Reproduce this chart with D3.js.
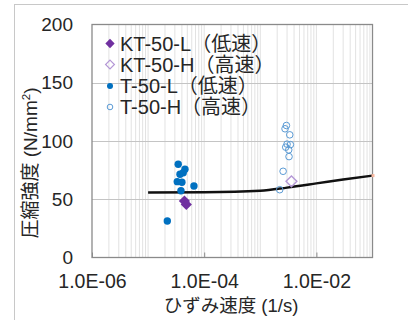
<!DOCTYPE html>
<html>
<head>
<meta charset="utf-8">
<script src="https://cdn.jsdelivr.net/npm/d3@7"></script>
<style>
  html, body { margin: 0; padding: 0; background: #fff; }
  svg { display: block; }
  text { font-family: "Liberation Sans", Arial, "Noto Sans CJK JP", sans-serif; fill: #262626; }
</style>
</head>
<body>
<svg id="chart" width="408" height="320"></svg>
<script>
// Strain rate (1/s) and compressive strength (N/mm2)
const tlRate = [3.44e-5, 4.54e-5, 4.23e-5, 3.70e-5, 3.31e-5, 4.01e-5, 6.56e-5, 3.85e-5, 2.20e-5];
const tlStrength = [80.1, 75.8, 72.8, 71.5, 65.1, 64.6, 61.4, 57.3, 31.3];

const thRate = [2.92e-3, 2.76e-3, 3.35e-3, 3.00e-3, 3.44e-3, 2.84e-3, 3.21e-3, 3.25e-3, 2.55e-3, 2.22e-3];
const thStrength = [113.3, 110.5, 105.3, 97.3, 96.9, 94.7, 92.4, 86.6, 74.0, 58.2];

const ktlRate = [4.44e-5, 4.80e-5];
const ktlStrength = [48.5, 45.5];

const kthRate = [3.59e-3];
const kthStrength = [65.4];

// Reference strength curve
const curveRate = [1e-5, 1e-4, 1e-3, 3e-3, 1e-2, 3e-2, 1e-1];
const curveStrength = [55.8, 56.0, 57.3, 60.0, 63.6, 67.0, 70.3];

const xTickValues = [1e-6, 1e-4, 1e-2];
const yTickValues = [0, 50, 100, 150, 200];

const legendLabels = ["KT-50-L（低速）", "KT-50-H（高速）", "T-50-L（低速）", "T-50-H（高速）"];

const svg = d3.select("#chart");
const plot = { left: 92, right: 372.5, top: 24.5, bottom: 257.5 };

const x = d3.scaleLog().domain([1e-6, 1e-1]).range([plot.left, plot.right]);
const y = d3.scaleLinear().domain([0, 200]).range([plot.bottom, plot.top]);

// Outer frame
svg.append("rect")
  .attr("x", 14.5).attr("y", 4.5).attr("width", 500).attr("height", 400)
  .attr("fill", "none").attr("stroke", "#c8c8c8").attr("stroke-width", 1);

// Vertical grid at every log step
const gridTicks = [];
for (let e = -6; e < -1; e++) {
  for (let m = 1; m <= 9; m++) if (!(e === -6 && m === 1)) gridTicks.push(m * Math.pow(10, e));
}
svg.append("g").selectAll("line").data(gridTicks).join("line")
  .attr("x1", d => x(d)).attr("x2", d => x(d))
  .attr("y1", plot.top).attr("y2", plot.bottom)
  .attr("stroke", "#e2e2e2").attr("stroke-width", 1);

// Horizontal grid
svg.append("g").selectAll("line").data([50, 100, 150]).join("line")
  .attr("x1", plot.left).attr("x2", plot.right)
  .attr("y1", d => Math.round(y(d)) + 0.5).attr("y2", d => Math.round(y(d)) + 0.5)
  .attr("stroke", "#c4c4c4").attr("stroke-width", 1.2);

// Plot border
svg.append("rect")
  .attr("x", plot.left).attr("y", plot.top)
  .attr("width", plot.right - plot.left).attr("height", plot.bottom - plot.top)
  .attr("fill", "none").attr("stroke", "#8a8a8a").attr("stroke-width", 1.3);

// X axis ticks (inside) and labels
const xAxis = d3.axisBottom(x).tickValues(xTickValues).tickSizeInner(-5).tickSizeOuter(0)
  .tickFormat(d => "1.0E" + (Math.log10(d) < 0 ? "-" : "+") + String(Math.abs(Math.round(Math.log10(d)))).padStart(2, "0"));
const gx = svg.append("g").attr("transform", `translate(0,${plot.bottom})`).call(xAxis);
gx.select(".domain").remove();
gx.selectAll("line").attr("stroke", "#8a8a8a");
gx.selectAll("text").attr("font-size", 19.5).attr("y", 0).attr("dy", 0)
  .attr("transform", "translate(0,30)").attr("fill", "#262626");

// Y axis labels
const yAxis = d3.axisLeft(y).tickValues(yTickValues).tickSize(0).tickPadding(19);
const gy = svg.append("g").attr("transform", `translate(${plot.left},0)`).call(yAxis);
gy.select(".domain").remove();
gy.selectAll("text").attr("font-size", 19).attr("fill", "#262626");

// Axis titles
svg.append("text").attr("x", 231).attr("y", 312).attr("text-anchor", "middle")
  .attr("font-size", 18.5).text("ひずみ速度 (1/s)");
const yt = svg.append("text").attr("transform", "translate(37,163) rotate(-90)")
  .attr("text-anchor", "middle").attr("font-size", 19);
yt.append("tspan").text("圧縮強度 (N/mm");
yt.append("tspan").attr("font-size", 11.5).attr("dy", -7).text("2");
yt.append("tspan").attr("dy", 7).text(")");

// Reference curve
const line = d3.line().x(d => x(d[0])).y(d => y(d[1])).curve(d3.curveMonotoneX);
svg.append("path").datum(d3.zip(curveRate, curveStrength))
  .attr("d", line).attr("fill", "none").attr("stroke", "#111").attr("stroke-width", 2.4);
svg.append("rect").attr("x", x(1e-1) - 1).attr("y", y(70.3) - 1.5)
  .attr("width", 3).attr("height", 3).attr("fill", "#f9b8a0");

const diamond = d3.symbol().type(d3.symbolDiamond2);
const circleColorL = "#0070c0", circleColorH = "#5b9bd5";
const diaColorL = "#7030a0", diaColorH = "#b497d6";

// T-50-H open circles
svg.append("g").selectAll("circle").data(d3.zip(thRate, thStrength)).join("circle")
  .attr("cx", d => x(d[0])).attr("cy", d => y(d[1])).attr("r", 3.3)
  .attr("fill", "none").attr("stroke", circleColorH).attr("stroke-width", 1);

// T-50-L filled circles
svg.append("g").selectAll("circle").data(d3.zip(tlRate, tlStrength)).join("circle")
  .attr("cx", d => x(d[0])).attr("cy", d => y(d[1])).attr("r", 3.7)
  .attr("fill", circleColorL);

// KT-50-L filled diamonds
svg.append("g").selectAll("path").data(d3.zip(ktlRate, ktlStrength)).join("path")
  .attr("transform", d => `translate(${x(d[0])},${y(d[1])})`)
  .attr("d", diamond.size(80)).attr("fill", diaColorL);

// KT-50-H open diamonds
svg.append("g").selectAll("path").data(d3.zip(kthRate, kthStrength)).join("path")
  .attr("transform", d => `translate(${x(d[0])},${y(d[1])})`)
  .attr("d", diamond.size(75)).attr("fill", "none").attr("stroke", diaColorH).attr("stroke-width", 1.4);

// Legend
const legendY = [43.5, 64.5, 86, 107];
const lg = svg.append("g");
legendLabels.forEach((label, i) => {
  const g = lg.append("g").attr("transform", `translate(110,${legendY[i]})`);
  if (i === 0) g.append("path").attr("d", diamond.size(55)).attr("fill", diaColorL);
  if (i === 1) g.append("path").attr("d", diamond.size(50)).attr("fill", "none").attr("stroke", diaColorH).attr("stroke-width", 1.2);
  if (i === 2) g.append("circle").attr("r", 3).attr("fill", circleColorL);
  if (i === 3) g.append("circle").attr("r", 2.8).attr("fill", "none").attr("stroke", circleColorH).attr("stroke-width", 1);
  g.append("text").attr("x", 10).attr("y", 0).attr("dy", "0.35em")
    .attr("font-size", 20).attr("fill", "#1a1a1a").text(label);
});
</script>
</body>
</html>
